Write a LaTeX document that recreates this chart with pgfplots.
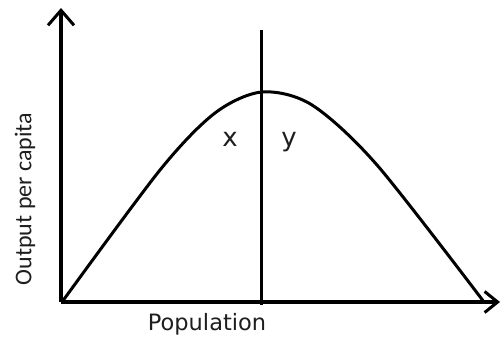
\documentclass[border=0pt]{standalone}
\usepackage{pgfplots}
\pgfplotsset{compat=1.18}
\usepackage{fontspec}
\setmainfont{Carlito}
\newfontfamily\wide{DejaVu Sans}
\usetikzlibrary{arrows.meta}
\definecolor{txt}{HTML}{1E1E1E}
\begin{document}
\begin{tikzpicture}
\begin{axis}[
    scale only axis,
    width=502pt, height=337pt,
    xmin=0, xmax=502, ymin=0, ymax=337,
    axis lines=none,
    clip=false,
]
    % frame so the page keeps the full size
    \addplot[draw=none] coordinates {(0,0) (502,337)};
    % axes
    \addplot[black, line width=3.5pt, -{Straight Barb[length=15pt,width=26pt,line width=3pt]}]
        coordinates {(61,35) (61,329)};
    \addplot[black, line width=3.5pt, -{Straight Barb[length=13pt,width=21pt,line width=3pt]}]
        coordinates {(61,35) (500,35)};
    % output per capita curve
    \addplot[black, line width=3pt, smooth, tension=0.5] coordinates {
        (62,35) (160,167) (215,224) (262,245) (312,232) (377,172) (484,35)};
    % vertical line at the peak
    \addplot[black, line width=3pt] coordinates {(261,32) (261,307)};
    \node[txt, font=\wide\fontsize{26}{26}\selectfont, anchor=base] at (axis cs:230,191) {x};
    \node[txt, font=\wide\fontsize{26}{26}\selectfont, anchor=base] at (axis cs:289,191) {y};
    \node[txt, font=\fontsize{24}{24}\selectfont, rotate=90] at (axis cs:25,138) {Output per capita};
    \node[txt, font=\wide\fontsize{22.5}{22.5}\selectfont] at (axis cs:207,13) {Population};
\end{axis}
\end{tikzpicture}
\end{document}
